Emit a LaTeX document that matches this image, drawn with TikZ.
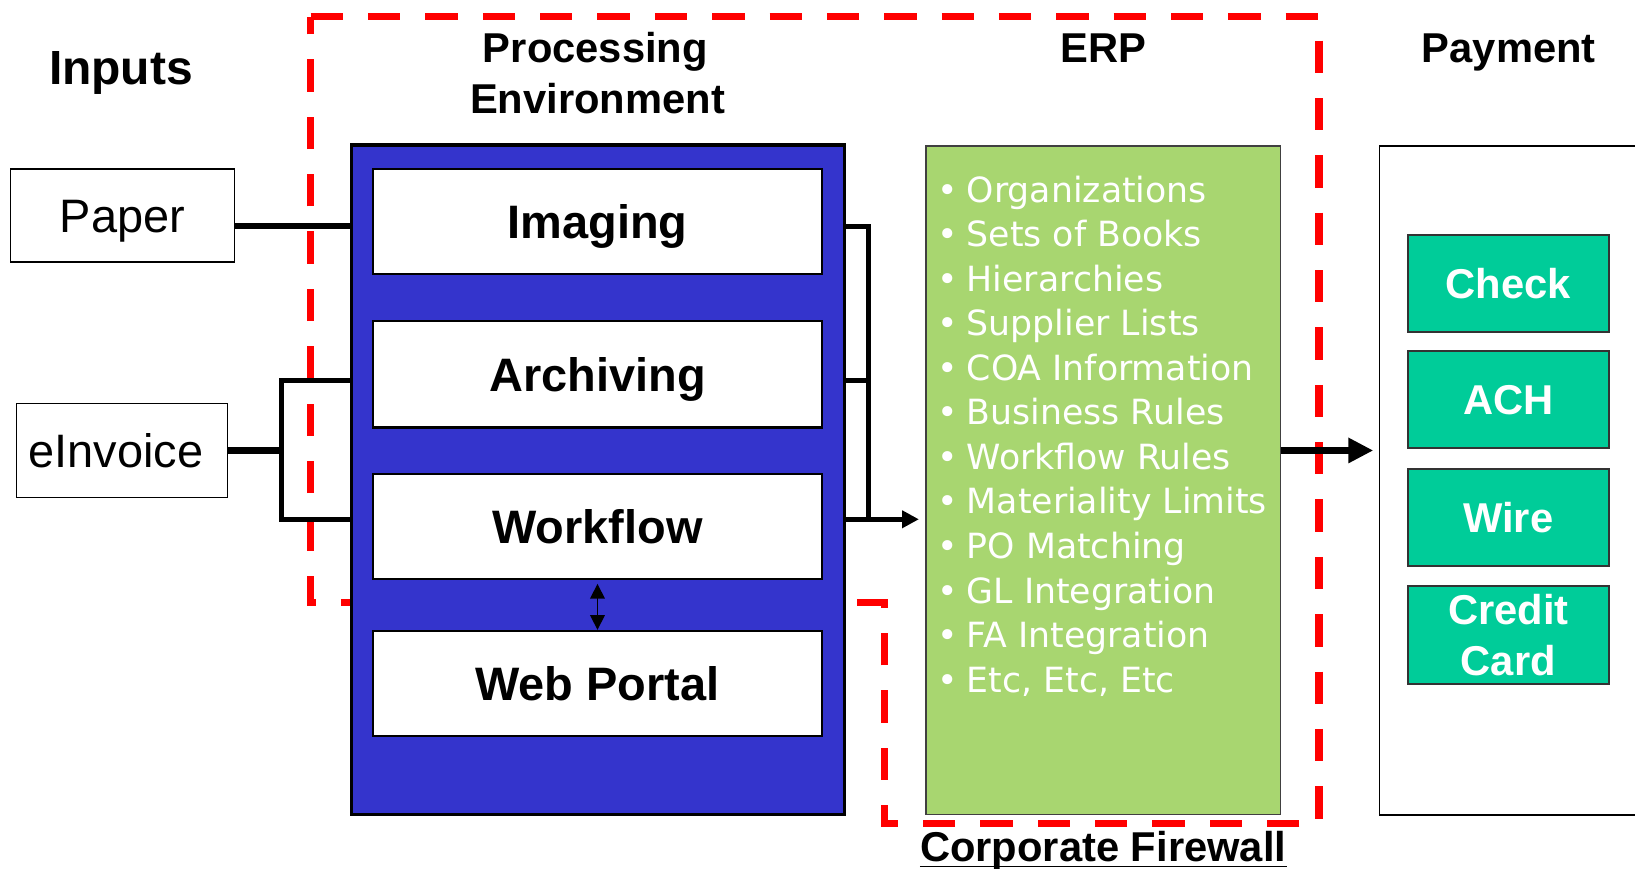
\documentclass[tikz,border=0pt]{standalone}
\usepackage{fontspec}
\setmainfont{Liberation Sans}
\newfontfamily\dvfont{DejaVu Sans}
\usetikzlibrary{arrows.meta}
\definecolor{pblue}{RGB}{52,52,204}
\definecolor{erpgreen}{RGB}{168,214,112}
\definecolor{payteal}{RGB}{0,204,153}
\begin{document}
\begin{tikzpicture}[x=1pt,y=-1pt,
  fw/.style={draw=red,line width=7pt,dash pattern=on 31pt off 24pt},
  inbox/.style={draw=black,line width=2pt,fill=white,inner sep=0pt,
    font=\fontsize{45}{54}\selectfont\bfseries,text height=32.2pt,text depth=0pt,
    minimum width=430pt},
  srcbox/.style={draw=black,line width=1.5pt,fill=white,inner sep=0pt,
    font=\fontsize{45}{52}\selectfont,text height=32pt,text depth=0pt},
  paybox/.style={draw=black!80,line width=2pt,fill=payteal,text=white,inner sep=0pt,
    font=\fontsize{40}{49.6}\selectfont\bfseries,align=center,
    minimum width=193pt,minimum height=93pt},
  head/.style={anchor=base,font=\fontsize{40}{48}\selectfont\bfseries,align=center},
  conn/.style={draw=black,line width=6pt,line join=miter}
]
\useasboundingbox (0,0) rectangle (1568,833);
\fill[white] (0,0) rectangle (1568,833);

% firewall
\draw[fw] (298,16) -- (1265,16) -- (1265,790) -- (848,790) -- (848,578) -- (298,578) -- cycle;

% headings
\node[anchor=base,font=\fontsize{46}{54}\selectfont\bfseries] (inputs) at (116,81.5) {Inputs};
\node[head] (proch) at (571,60) {Processing};
\node[head] (envh) at (573,108.5) {Environment};
\node[head] (erph) at (1058,60) {ERP};
\node[head] (payh) at (1447,60) {Payment};

% inputs
\node[srcbox,minimum width=215pt,minimum height=89pt] (paper) at (117.5,206.5) {Paper};
\node[srcbox,minimum width=202pt,minimum height=90pt] (einv) at (117,432) {\hspace*{-12pt}eInvoice};

% processing environment
\node[draw=black,line width=3pt,fill=pblue,minimum width=473pt,minimum height=642pt,inner sep=0pt] (proc) at (573.5,460) {};
\node[inbox,minimum height=101pt] (img) at (573,212.5) {Imaging};
\node[inbox,minimum height=102pt] (arc) at (573,359) {Archiving};
\node[inbox,minimum height=100pt] (wf) at (573,505) {Workflow};
\node[inbox,minimum height=101pt] (web) at (573,655.5) {Web Portal};
\draw[line width=1.5pt,{Triangle[length=14pt,width=14pt]}-{Triangle[length=14pt,width=14pt]},shorten <=4pt] (wf.south) -- (web.north);

% ERP
\node[draw=black!75,line width=1.5pt,fill=erpgreen,minimum width=340pt,minimum height=641pt,inner sep=0pt] (erp) at (1058,460.5) {};
\node[anchor=north west,inner sep=0pt,text=white,align=left,
  font=\dvfont\fontsize{33.3}{42.7}\selectfont] (erplist) at (899,168.5)
  {\makebox[28pt][l]{•}Organizations\\
   \makebox[28pt][l]{•}Sets of Books\\
   \makebox[28pt][l]{•}Hierarchies\\
   \makebox[28pt][l]{•}Supplier Lists\\
   \makebox[28pt][l]{•}COA Information\\
   \makebox[28pt][l]{•}Business Rules\\
   \makebox[28pt][l]{•}Workflow Rules\\
   \makebox[28pt][l]{•}Materiality Limits\\
   \makebox[28pt][l]{•}PO Matching\\
   \makebox[28pt][l]{•}GL Integration\\
   \makebox[28pt][l]{•}FA Integration\\
   \makebox[28pt][l]{•}Etc, Etc, Etc};

% payment
\node[draw=black,line width=1.5pt,fill=white,anchor=north west,minimum width=300pt,minimum height=642pt,inner sep=0pt] (pay) at (1322,139) {};
\node[paybox] (check) at (1446.5,271.5) {Check};
\node[paybox] (ach) at (1446.5,383.5) {ACH};
\node[paybox] (wire) at (1446.5,496.5) {Wire};
\node[paybox,minimum height=94pt] (cc) at (1446.5,609) {Credit\\Card};

% connectors
\coordinate (yA) at (0,217);
\coordinate (yB) at (0,365);
\coordinate (yC) at (0,498);
\coordinate (yD) at (0,432);
\coordinate (jl) at (270,0);
\coordinate (jr) at (833,0);
\draw[conn] (paper.east |- yA) -- (proc.west |- yA);
\draw[conn] (einv.east) -- (jl |- yD);
\draw[conn,line width=5pt] (proc.west |- yB) -- (jl |- yB) -- (jl |- yC) -- (proc.west |- yC);
\draw[conn,line width=5pt] (proc.east |- yA) -- (jr |- yA) -- (jr |- yC);
\draw[conn,line width=5pt] (proc.east |- yB) -- (jr |- yB);
\draw[conn,line width=5pt,-{Triangle[length=16pt,width=16pt]},shorten >=6pt] (proc.east |- yC) -- (erp.west |- yC);
\draw[line width=7pt,-{Triangle[length=24pt,width=23pt]},shorten >=5pt] (erp.east |- yD) -- (pay.west |- yD);

% firewall label
\node[anchor=base,inner sep=0pt,font=\fontsize{40}{48}\selectfont\bfseries] (cf) at (1058,826.4) {Corporate Firewall};
\draw[line width=1.5pt] ([yshift=-4.6pt]cf.base west) -- ([yshift=-4.6pt]cf.base east);
\end{tikzpicture}
\end{document}
